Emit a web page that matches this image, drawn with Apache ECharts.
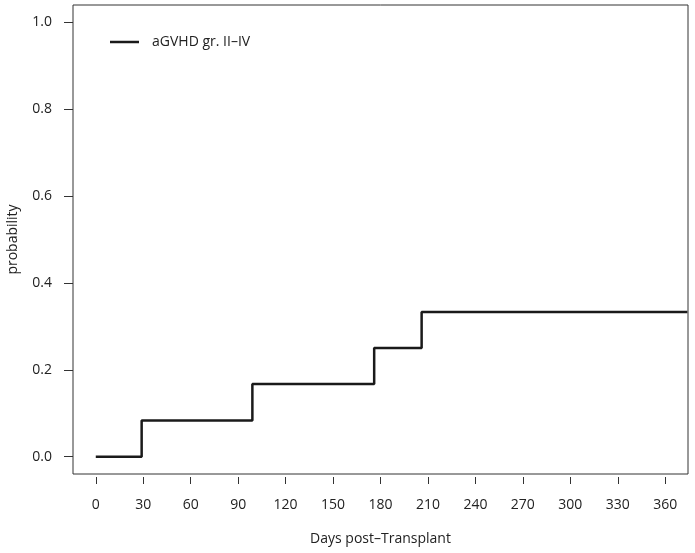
<!DOCTYPE html>
<html>
<head>
<meta charset="utf-8">
<script src="https://cdn.jsdelivr.net/npm/echarts@6/dist/echarts.min.js"></script>
<style>
html,body{margin:0;padding:0;background:#fff;}
#chart{width:695px;height:553px;}
</style>
</head>
<body>
<div id="chart"></div>
<script>
// Data
const seriesName = 'aGVHD gr. II\u2013IV';
const days = [0, 29, 99, 176, 206, 374];
const probability = [0, 0.083, 0.167, 0.25, 0.333, 0.333];
const xTicks = [0, 30, 60, 90, 120, 150, 180, 210, 240, 270, 300, 330, 360];
const yTicks = [0, 0.2, 0.4, 0.6, 0.8, 1.0];
const xTitle = 'Days post\u2013Transplant';
const yTitle = 'probability';

const FONT = 'Open Sans';
const chart = echarts.init(document.getElementById('chart'), null, {renderer: 'canvas'});
chart.setOption({
  animation: false,
  backgroundColor: '#ffffff',
  grid: {
    left: 73, right: 7, top: 5, bottom: 79,
    containLabel: false,
    outerBoundsMode: 'none',
    show: true, borderColor: '#333', borderWidth: 1, backgroundColor: 'transparent'
  },
  legend: {
    left: 105, top: 30,
    icon: 'rect', itemWidth: 29, itemHeight: 2.5,
    textStyle: {fontFamily: FONT, fontSize: 14, color: '#222', padding: [0, 0, 0, 8]},
    data: [seriesName]
  },
  xAxis: {
    type: 'value', min: -14.4, max: 374.4,
    offset: 3,
    splitLine: {show: false},
    axisLine: {show: false, onZero: false},
    axisTick: {show: true, length: 7, customValues: xTicks, lineStyle: {color: '#333', width: 1}},
    axisLabel: {customValues: xTicks, margin: 21, fontFamily: FONT, fontSize: 14, color: '#222'},
    name: xTitle, nameLocation: 'middle', nameGap: 55,
    nameTextStyle: {fontFamily: FONT, fontSize: 14, color: '#222'}
  },
  yAxis: {
    type: 'value', min: -0.04, max: 1.04,
    splitLine: {show: false},
    axisLine: {show: false, onZero: false},
    axisTick: {show: true, length: 9, customValues: yTicks, lineStyle: {color: '#333', width: 1}},
    axisLabel: {customValues: yTicks, margin: 21, fontFamily: FONT, fontSize: 14, color: '#222',
      formatter: v => v.toFixed(1)},
    name: yTitle, nameLocation: 'middle', nameGap: 53,
    nameTextStyle: {fontFamily: FONT, fontSize: 14, color: '#222'}
  },
  series: [{
    name: seriesName,
    type: 'line',
    step: 'end',
    showSymbol: false,
    symbol: 'none',
    color: '#1a1a1a',
    lineStyle: {color: '#1a1a1a', width: 2.5},
    data: days.map((d, i) => [d, probability[i]])
  }]
});
</script>
</body>
</html>
